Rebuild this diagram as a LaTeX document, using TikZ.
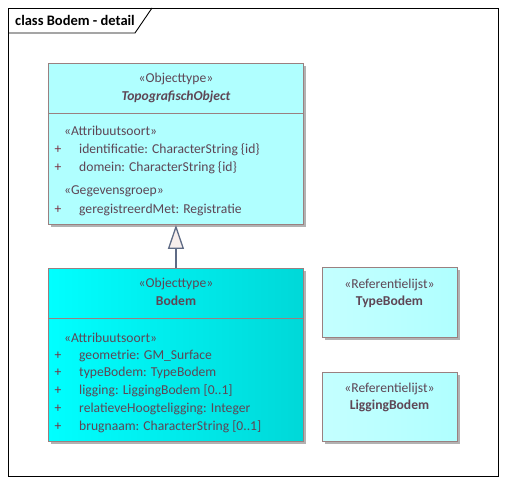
\documentclass[tikz,border=0pt]{standalone}
\usepackage{fontspec}
\setmainfont{Carlito}
\usetikzlibrary{arrows.meta}
\usetikzlibrary{shadows}

\definecolor{lightcyan}{HTML}{B0FFFF}
\definecolor{boxline}{HTML}{9A8080}
\definecolor{txt}{HTML}{5E4655}
\definecolor{plus}{HTML}{7A2E40}
\definecolor{genline}{HTML}{5F6B85}
\definecolor{tipfill}{HTML}{F7EEEC}

\tikzset{
    umlbox/.style={draw=boxline,line width=0.9pt,anchor=north west,inner sep=0,
        drop shadow={shadow xshift=3pt,shadow yshift=-3pt,fill=black!30,opacity=1}},
    txt/.style={inner sep=0,text=txt,font=\fontsize{13.6}{15}\selectfont},
    attr/.style={txt,anchor=west},
    pl/.style={inner sep=0,text=plus,font=\fontsize{13.6}{15}\selectfont},
}

\begin{document}
\begin{tikzpicture}[x=1pt,y=-1pt]
            \useasboundingbox (0,0) rectangle (508,484);

            % frame
            \draw[line width=0.9pt] (8,8) rectangle (498,476);
            \draw[line width=0.9pt] (8,33) -- (135,33) -- (152,8);
            \node[anchor=west,inner sep=0,font=\fontsize{14.5}{16}\selectfont\bfseries] (title) at (15,20) {class Bodem - detail};

            % classes
            \node[umlbox,fill=lightcyan,minimum width=255pt,minimum height=161pt] (topo) at (48,63) {};
            \node[umlbox,left color=cyan,right color={rgb,255:red,0;green,216;blue,216},minimum width=255pt,minimum height=173pt] (bodem) at (48,268) {};
            \node[umlbox,left color={rgb,255:red,196;green,255;blue,255},right color=lightcyan,minimum width=135pt,minimum height=70pt] (typebodem) at (322,267) {};
            \node[umlbox,left color={rgb,255:red,196;green,255;blue,255},right color=lightcyan,minimum width=135pt,minimum height=69pt] (liggingbodem) at (322,372) {};

            \draw[draw=boxline,line width=0.9pt] ([yshift=-50pt]topo.north west) -- ([yshift=-50pt]topo.north east);
            \draw[draw=boxline,line width=0.9pt] ([yshift=-50pt]bodem.north west) -- ([yshift=-50pt]bodem.north east);

            % TopografischObject
            \node[txt] (topost) at (176,79) {«Objecttype»};
            \node[txt,font=\fontsize{13.6}{15}\selectfont\bfseries\itshape] (toponame) at (176,97) {TopografischObject};
            \node[attr] (topoas) at (64,131) {«Attribuutsoort»};
            \node[pl] at (58,150) {+};
            \node[attr] (topoa1) at (79,150) {identificatie: CharacterString \{id\}};
            \node[pl] at (58,168) {+};
            \node[attr] (topoa2) at (79,168) {domein: CharacterString \{id\}};
            \node[attr] (topogg) at (64,191) {«Gegevensgroep»};
            \node[pl] at (58,210) {+};
            \node[attr] (topoa3) at (79,210) {geregistreerdMet: Registratie};

            % Bodem
            \node[txt] (bodemst) at (176,284) {«Objecttype»};
            \node[txt,font=\fontsize{13.6}{15}\selectfont\bfseries] (bodemname) at (176,301) {Bodem};
            \node[attr] (bodemas) at (64,338) {«Attribuutsoort»};
            \foreach \y/\a in {356/geometrie: GM\_Surface,
                               373/typeBodem: TypeBodem,
                               391/ligging: LiggingBodem [0..1],
                               409/relatieveHoogteligging: Integer,
                               427/brugnaam: CharacterString [0..1]}{
                \node[pl] at (58,\y) {+};
                \node[attr] at (79,\y) {\a};
            }

            % Referentielijsten
            \node[txt] (typest) at (389.5,285) {«Referentielijst»};
            \node[txt,font=\fontsize{13.6}{15}\selectfont\bfseries] (typename) at (389.5,302) {TypeBodem};
            \node[txt] (liggingst) at (389.5,389) {«Referentielijst»};
            \node[txt,font=\fontsize{13.6}{15}\selectfont\bfseries] (liggingname) at (389.5,406) {LiggingBodem};

            % generalisatie
            \draw[genline,line width=1.3pt,-{Triangle[open,length=24pt,width=16pt,fill=tipfill]}] (bodem.north) -- (topo.south);

\end{tikzpicture}
\end{document}
